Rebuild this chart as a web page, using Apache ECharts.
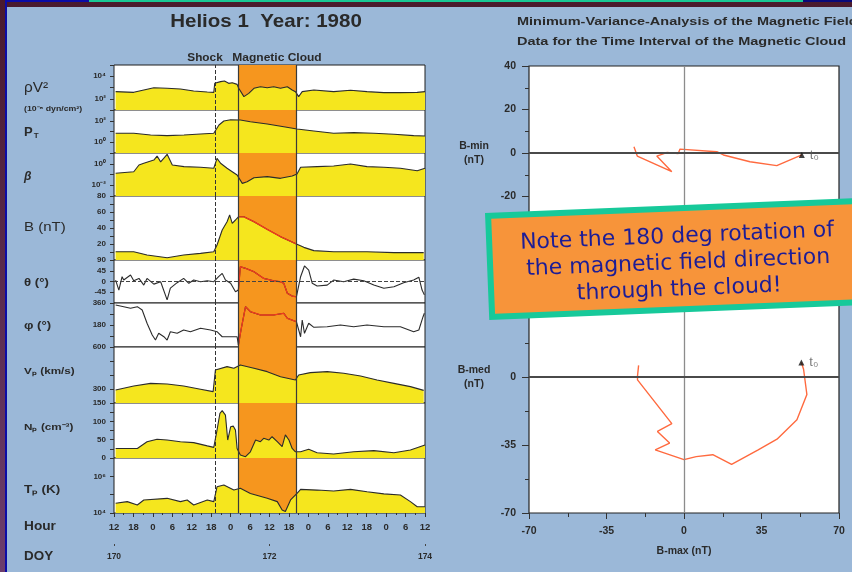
<!DOCTYPE html>
<html>
<head>
<meta charset="utf-8">
<script src="https://cdn.jsdelivr.net/npm/echarts@6/dist/echarts.min.js"></script>
<style>
  html, body { margin: 0; padding: 0; width: 852px; height: 572px; overflow: hidden; }
  body { position: relative; background: linear-gradient(#4a1a2e, #6c3d6c); }
  #paper { position: absolute; left: 7px; top: 7px; right: 0; bottom: 0; background: #9bb8d8; }
  #edgeL { position: absolute; left: 5px; top: 0; width: 2px; bottom: 0; background: #0c0ca6; }
  #edgeT1 { position: absolute; left: 5px; top: 0; width: 84px; height: 2px; background: #0c0ca6; }
  #edgeT2 { position: absolute; left: 89px; top: 0; width: 714px; height: 2px; background: #19c795; }
  #edgeT3 { position: absolute; left: 803px; top: 0; right: 0; height: 2px; background: #0a0a7a; }
  #chart { position: absolute; left: 0; top: 0; width: 852px; height: 572px; }
</style>
</head>
<body>
<div id="paper"></div>
<div id="edgeL"></div>
<div id="edgeT1"></div>
<div id="edgeT2"></div>
<div id="edgeT3"></div>
<div id="chart"></div>
<script>
// ---- time axis (hours after DOY 170, 12:00 UT) ----
const hourLabels = ['12','18','0','6','12','18','0','6','12','18','0','6','12','18','0','6','12'];
const doyLabels = ['170', '172', '174'];
const shockTime = 31.1;
const cloudInterval = [38.4, 56.3];

// ---- Helios 1 plasma and field parameters: [hour, value] ----
const rhoV2 = [[0.5,427],[6.1,372],[9.2,603],[12.3,955],[16.4,851],[20.5,741],[24.6,490],[28.8,398],[30.8,372],
  [31.1,2340],[32.9,3310],[34.1,3800],[35.4,2340],[36.5,2690],[38.0,1900],[38.5,851],[40.1,155],[41.6,302],
  [43.2,851],[45.2,1170],[47.3,955],[49.3,1170],[51.4,851],[53.5,1170],[55.0,603],[56.0,427],[57.0,155],
  [58.1,427],[61.7,603],[67.8,427],[73.0,562],[78.1,427],[83.3,347],[88.4,347],[93.6,372],[96,427]];

const totalPressure = [[0.5,6.8],[6.1,6.8],[11.3,4.7],[16.4,4.1],[21.6,4.7],[26.7,5.9],[30.8,6.8],[32.4,40],
  [33.9,95],[36.0,125],[39.0,117],[42.1,81],[47.3,50],[52.4,28],[56.5,17],[61.7,11.2],[67.8,6.8],[74.0,7.8],
  [80.2,6.8],[86.4,5.5],[92.5,4.1],[96,3.8]];

const plasmaBeta = [[0.5,0.13],[6.1,0.18],[7.7,0.76],[9.2,1.1],[12.3,2.2],[13.3,5.2],[14.4,1.5],[16.4,7.6],
  [18.0,0.76],[21.6,0.54],[26.7,0.47],[30.8,0.38],[31.8,3.2],[32.9,1.1],[34.9,0.38],[36.5,0.18],[38.0,0.089],
  [39.6,0.015],[41.1,0.021],[43.2,0.05],[47.3,0.063],[51.4,0.044],[55.0,0.072],[56.5,0.11],[57.6,0.47],
  [62.7,0.54],[67.8,0.62],[73.0,0.95],[78.1,0.54],[83.3,0.47],[88.4,0.38],[93.6,0.22],[96,0.38]];

const fieldB = [[0.5,10.4],[6.1,10.4],[10.2,6.2],[16.4,2.9],[21.5,6.2],[26.7,8.3],[30.8,10.4],[31.8,18.8],
  [33.4,37.5],[34.9,47.9],[35.7,56.3],[36.5,45.8],[37.5,50],[38.4,54],[40.1,54],[43.2,47.9],[47.3,38.3],
  [51.4,29.2],[56.3,20],[58.6,15.8],[61.7,11.7],[67.8,10.4],[78.1,10.4],[86.4,9.2],[95.6,9.2]];

const fieldTheta = [[0.5,6],[1.5,-36],[2.5,20],[3.0,6],[5.1,27],[6.1,3],[7.7,13],[9.2,-15],[10.2,13],[12.3,-11],
  [14.4,-1],[16.4,-77],[17.4,-28],[19.5,-5],[21.5,13],[23.1,-7.5],[24.6,6],[26.7,-1],[28.8,3],[30.8,-1],
  [32.3,20],[33.4,34],[34.4,6],[36.0,-7.5],[37.5,-43],[38.4,-36],[39.0,62],[40.6,55],[43.2,41],[46.2,13],
  [49.3,3],[51.4,-1],[52.4,-7.5],[53.5,-49],[55.0,-61],[56.3,-64],[57.6,20],[58.8,65],[60.1,48],[61.2,-7.5],
  [62.7,-19],[65.8,-15],[67.8,6],[70.9,-1],[74.0,10],[77.1,3],[80.2,-15],[83.3,-28],[86.4,-22],[89.4,-5],
  [92.5,6],[94.1,18],[95.1,-36],[95.8,-56]];

const fieldPhi = [[0.5,344],[3.0,330],[5.1,317],[7.2,330],[8.7,303],[10.2,194],[11.8,98],[12.8,57],[13.8,112],
  [15.4,84],[16.4,57],[17.4,125],[19.5,112],[21.5,139],[23.6,125],[26.7,153],[29.8,139],[31.8,125],[33.4,84],
  [36.0,84],[38.0,84],[38.4,16],[39.2,139],[40.6,330],[42.1,289],[45.2,262],[49.3,262],[52.4,276],[53.5,235],
  [56.3,207],[57.6,84],[58.1,221],[58.8,112],[60.1,194],[61.7,161],[65.8,166],[69.9,180],[74.0,166],
  [78.1,180],[83.3,166],[88.4,166],[92.5,125],[94.1,139],[95.4,248],[95.8,276]];

const protonSpeed = [[0.5,293],[6.1,321],[11.3,340],[16.4,336],[21.5,321],[26.7,298],[30.6,281],[31.3,436],
  [34.9,460],[37.0,448],[39.0,471],[43.2,448],[47.3,424],[51.4,388],[56.0,364],[57.0,400],[60.6,417],
  [65.8,424],[70.9,412],[76.1,393],[81.2,364],[86.4,340],[91.5,317],[95.6,290]];

const protonDensity = [[0.5,26],[7.2,26],[10.2,44.5],[13.3,51],[16.4,49],[20.5,44.5],[24.6,42],[28.8,33],
  [30.8,29],[31.8,76],[32.7,122],[33.4,129],[34.4,117],[35.1,49],[36.0,85],[36.8,87],[37.5,76],[38.0,26],
  [39.0,8],[40.6,3.6],[42.1,17],[43.7,49],[45.2,44.5],[46.2,53.6],[47.8,49],[48.8,58],[50.4,44.5],[51.9,31],
  [52.9,63],[54.0,49],[55.0,26],[56.0,17],[57.6,17],[60.1,23.6],[62.7,14.5],[67.8,11],[74.0,17],[80.2,20],
  [86.4,14.5],[91.5,22],[96,35.5]];

const protonTemp = [[0.5,33900],[4.1,41700],[7.2,27500],[9.2,51300],[16.4,63100],[20.5,41700],[22.6,51300],
  [24.6,27500],[28.8,51300],[30.8,41700],[31.8,269000],[33.9,339000],[37.0,178000],[39.0,224000],
  [42.1,117000],[47.3,63100],[50.4,41700],[51.9,14500],[52.9,12000],[54.5,51300],[56.5,117000],
  [57.6,195000],[62.7,178000],[67.8,158000],[73.0,195000],[78.1,145000],[83.3,110000],[88.4,95500],
  [91.5,41700],[93.6,21900],[96,21900]];

// ---- y tick labels per panel: [value, text] ----
const rhoTicks = [[1e4,'10⁴'],[1e2,'10²']];
const ptTicks = [[1e2,'10²'],[1,'10⁰']];
const betaTicks = [[1,'10⁰'],[1e-2,'10⁻²']];
const bTicks = [[80,'80'],[60,'60'],[40,'40'],[20,'20']];
const thetaTicks = [[90,'90'],[45,'45'],[0,'0'],[-45,'-45']];
const phiTicks = [[360,'360'],[180,'180']];
const vpTicks = [[600,'600'],[300,'300']];
const npTicks = [[150,'150'],[100,'100'],[50,'50'],[0,'0']];
const tpTicks = [[1e6,'10⁶'],[1e4,'10⁴']];

// ---- minimum variance hodograms: [B-max, B-min] and [B-max, B-med] ----
const hodoMaxMin = [[53.2,-0.9],[41.9,-5.8],[29.8,-4.0],[17.8,-0.9],[14.8,0.6],[-1.8,1.8],[-2.6,-0.2],
  [-7.8,0.2],[-12.3,-1.4],[-5.5,-8.6],[-21.1,-1.4],[-22.6,2.9]];
const hodoMaxMed = [[53,7.5],[54,4],[55.5,-9],[51,-22],[42,-32],[33.5,-37.5],[21.5,-45],[13,-40],[5.5,-41],
  [0,-42.5],[-13,-37.5],[-6.5,-34],[-12,-28],[-5.5,-24],[-21,-1.5],[-21,0.5],[-20.5,6]];

const calloutLines = ['Note the 180 deg rotation of', 'the magnetic field direction', 'through the cloud!'];

// ---- styling ----
const YELLOW = '#f5e61e';
const ORANGE = '#f6961e';
const RED = '#f23a1c';
const INK = '#2a2a2a';
const FONT = '"Liberation Sans", Arial, sans-serif';

const panels = [
  { top: 65,  bottom: 110, data: rhoV2,         fill: true,  ticks: rhoTicks,   axis: { type: 'log', min: 1e1, max: 1e5, splitNumber: 4 } },
  { top: 110, bottom: 153, data: totalPressure, fill: true,  ticks: ptTicks,    axis: { type: 'log', min: 1e-1, max: 1e3, splitNumber: 4 } },
  { top: 153, bottom: 196, data: plasmaBeta,    fill: true,  ticks: betaTicks,  axis: { type: 'log', min: 1e-3, max: 1e1, splitNumber: 4 } },
  { top: 196, bottom: 260, data: fieldB,        fill: true,  ticks: bTicks,     axis: { type: 'value', min: 0, max: 80, interval: 10 }, red: true },
  { top: 260, bottom: 303, data: fieldTheta,    fill: false, ticks: thetaTicks, axis: { type: 'value', min: -90, max: 90, interval: 45 }, red: true, zero: true },
  { top: 303, bottom: 347, data: fieldPhi,      fill: false, ticks: phiTicks,   axis: { type: 'value', min: 0, max: 360, interval: 90 }, red: true },
  { top: 347, bottom: 403, data: protonSpeed,   fill: true,  ticks: vpTicks,    axis: { type: 'value', min: 200, max: 600, interval: 100 } },
  { top: 403, bottom: 458, data: protonDensity, fill: true,  ticks: npTicks,    axis: { type: 'value', min: 0, max: 150, interval: 25 } },
  { top: 458, bottom: 513, data: protonTemp,    fill: true,  ticks: tpTicks,    axis: { type: 'log', min: 1e4, max: 1e7, splitNumber: 3 } }
];

function tickText(v, ticks, isLog) {
  for (const [val, txt] of ticks) {
    if (isLog ? Math.abs(Math.log10(v) - Math.log10(val)) < 1e-6 : Math.abs(v - val) < 1e-6) return txt;
  }
  return '';
}
const inCloud = pts => pts.map(p => (p[0] >= cloudInterval[0] && p[0] <= cloudInterval[1]) ? p : [p[0], null]);
const hiddenLine = { show: false, onZero: false };

const grids = [], xAxes = [], yAxes = [], series = [];

panels.forEach((p, i) => {
  const last = i === panels.length - 1;
  grids.push({ left: 114, top: p.top, width: 311, height: p.bottom - p.top, show: true,
    backgroundColor: '#fff', borderColor: '#1e1e1e', borderWidth: 1 });
  xAxes.push({ gridIndex: i, type: 'value', min: 0, max: 96, interval: 6,
    axisLine: hiddenLine, splitLine: { show: false },
    axisTick: { show: last, length: 4, lineStyle: { color: '#333' } },
    minorTick: { show: last, splitNumber: 2, length: 2, lineStyle: { color: '#333' } },
    axisLabel: { show: last, margin: 9, fontSize: 9.5, fontWeight: 'bold', fontFamily: FONT, color: INK,
      formatter: v => hourLabels[Math.round(v / 6)] } });
  yAxes.push(Object.assign({ gridIndex: i, axisLine: hiddenLine, splitLine: { show: false },
    axisTick: { show: true, length: 4, lineStyle: { color: '#333' } },
    axisLabel: { fontSize: 8, margin: 8, fontWeight: 'bold', fontFamily: FONT, color: INK,
      formatter: v => tickText(v, p.ticks, p.axis.type === 'log') } }, p.axis));

  // magnetic cloud interval (invisible carrier line)
  series.push({ type: 'line', xAxisIndex: i, yAxisIndex: i, data: p.data, z: 1, silent: true, showSymbol: false,
    lineStyle: { opacity: 0 },
    markArea: { silent: true, itemStyle: { color: ORANGE }, label: { show: false },
      data: [[{ xAxis: cloudInterval[0] }, { xAxis: cloudInterval[1] }]] } });

  const main = { type: 'line', xAxisIndex: i, yAxisIndex: i, data: p.data, z: 2, showSymbol: false, silent: true,
    lineStyle: { color: '#2b2b2b', width: 1.1 } };
  if (p.fill) main.areaStyle = { color: YELLOW, opacity: 1, origin: 'start' };
  series.push(main);

  if (p.red) {
    series.push({ type: 'line', xAxisIndex: i, yAxisIndex: i, data: inCloud(p.data), z: 3, showSymbol: false,
      silent: true, connectNulls: false, lineStyle: { color: RED, width: 1.3 } });
  }

  const marks = [
    { xAxis: shockTime, lineStyle: { color: '#333', width: 1, type: 'dashed' } },
    { xAxis: cloudInterval[0], lineStyle: { color: '#3a3a3a', width: 1.2, type: 'solid' } },
    { xAxis: cloudInterval[1], lineStyle: { color: '#3a3a3a', width: 1.2, type: 'solid' } }
  ];
  if (p.zero) marks.push({ yAxis: 0, lineStyle: { color: '#444', width: 1, type: 'dashed' } });
  series.push({ type: 'line', xAxisIndex: i, yAxisIndex: i, data: p.data, z: 4, silent: true, showSymbol: false,
    lineStyle: { opacity: 0 },
    markLine: { silent: true, symbol: 'none', label: { show: false }, data: marks } });
});

// ---- hodogram grids ----
const gU = grids.length, gL = grids.length + 1;
const nameStyle = { fontSize: 10.5, fontWeight: 'bold', fontFamily: FONT, color: INK, align: 'center', lineHeight: 14 };
const hodoLabel = { fontSize: 10.5, fontWeight: 'bold', fontFamily: FONT, color: INK };
grids.push({ left: 529, top: 66, width: 310, height: 174, show: true, backgroundColor: '#fff', borderColor: '#222', borderWidth: 1.2 });
grids.push({ left: 529, top: 241, width: 310, height: 272, show: true, backgroundColor: '#fff', borderColor: '#222', borderWidth: 1.2 });

xAxes.push({ gridIndex: gU, type: 'value', min: -70, max: 70, interval: 35,
  axisLine: hiddenLine, axisTick: { show: false }, axisLabel: { show: false }, splitLine: { show: false } });
yAxes.push({ gridIndex: gU, type: 'value', min: -40, max: 40, interval: 20,
  name: 'B-min\n(nT)', nameLocation: 'middle', nameRotate: 0, nameGap: 55, nameTextStyle: nameStyle,
  axisLine: hiddenLine, splitLine: { show: false },
  axisTick: { length: 7, lineStyle: { color: '#333' } },
  minorTick: { show: true, splitNumber: 2, length: 4, lineStyle: { color: '#333' } },
  axisLabel: Object.assign({ margin: 13 }, hodoLabel) });

xAxes.push({ gridIndex: gL, type: 'value', min: -70, max: 70, interval: 35,
  name: 'B-max (nT)', nameLocation: 'middle', nameGap: 31, nameTextStyle: nameStyle,
  axisLine: hiddenLine, splitLine: { show: false },
  axisTick: { length: 6, lineStyle: { color: '#333' } },
  minorTick: { show: true, splitNumber: 2, length: 4, lineStyle: { color: '#333' } },
  axisLabel: Object.assign({ margin: 13 }, hodoLabel) });
yAxes.push({ gridIndex: gL, type: 'value', min: -70, max: 70, interval: 35,
  name: 'B-med\n(nT)', nameLocation: 'middle', nameRotate: 0, nameGap: 55, nameTextStyle: nameStyle,
  axisLine: hiddenLine, splitLine: { show: false },
  axisTick: { length: 7, lineStyle: { color: '#333' } },
  minorTick: { show: true, splitNumber: 2, length: 4, lineStyle: { color: '#333' } },
  axisLabel: Object.assign({ margin: 13 }, hodoLabel) });

[[gU, hodoMaxMin], [gL, hodoMaxMed]].forEach(([g, pts]) => {
  series.push({ type: 'line', xAxisIndex: g, yAxisIndex: g, data: pts, z: 2, silent: true, showSymbol: false,
    lineStyle: { opacity: 0 },
    markLine: { silent: true, symbol: 'none', label: { show: false }, data: [
      { xAxis: 0, lineStyle: { color: '#8c8c8c', width: 1.3, type: 'solid' } },
      { yAxis: 0, lineStyle: { color: '#4a4a4a', width: 1.8, type: 'solid' } } ] } });
  series.push({ type: 'line', xAxisIndex: g, yAxisIndex: g, data: pts, z: 3, showSymbol: false, silent: true,
    lineStyle: { color: '#ff6a3f', width: 1.4 } });
  series.push({ type: 'scatter', xAxisIndex: g, yAxisIndex: g, data: [pts[0]], z: 5, silent: true,
    symbol: 'triangle', symbolSize: 6, itemStyle: { color: '#111' },
    label: { show: true, position: 'right', distance: 5, formatter: 't₀', fontSize: 13, color: '#555', fontFamily: FONT } });
});

// second time axis on the bottom panel: day of year
xAxes.push({ gridIndex: panels.length - 1, type: 'value', min: 0, max: 96, interval: 48, position: 'bottom', offset: 31,
  axisLine: hiddenLine, splitLine: { show: false },
  axisTick: { show: true, length: 2, lineStyle: { color: '#444' } },
  axisLabel: { margin: 8, fontSize: 8.5, fontWeight: 'bold', fontFamily: FONT, color: INK,
    formatter: v => doyLabels[Math.round(v / 48)] } });

// ---- titles and panel names ----
const txt = (x, y, text, size, extra, sx) => ({ type: 'text', x, y, scaleX: sx || 1, silent: true, z: 50,
  style: Object.assign({ text, fontSize: size, fontFamily: FONT, fontWeight: 'bold', fill: INK,
    align: 'left', verticalAlign: 'middle' }, extra || {}) });

const graphics = [
  txt(266, 22, 'Helios 1  Year: 1980', 19, { align: 'center' }, 1.08),
  txt(205, 58, 'Shock', 10, { align: 'center' }, 1.18),
  txt(277, 58, 'Magnetic Cloud', 10, { align: 'center' }, 1.2),
  txt(517, 22, 'Minimum-Variance-Analysis of the Magnetic Field', 11.5, null, 1.26),
  txt(517, 42, 'Data for the Time Interval of the Magnetic Cloud', 11.5, null, 1.26),
  txt(24, 88, 'ρV²', 14, { fontWeight: 'normal' }, 1.1),
  txt(24, 109, '(10⁻⁸ dyn/cm²)', 7, null, 1.25),
  { type: 'text', x: 24, y: 132, silent: true, z: 50, style: { text: '{a|P}{b|T}', align: 'left', verticalAlign: 'middle',
      rich: { a: { fontSize: 13, fontFamily: FONT, fill: INK, fontWeight: 'bold' },
              b: { fontSize: 8, fontFamily: FONT, fill: INK, fontWeight: 'bold', padding: [7, 0, 0, 1] } } } },
  txt(24, 177, 'β', 12, { fontStyle: 'italic' }),
  txt(24, 228, 'B (nT)', 12.5, { fontWeight: 'normal' }, 1.2),
  txt(24, 283, 'θ (°)', 11, null, 1.2),
  txt(24, 326, 'φ (°)', 11, null, 1.2),
  txt(24, 372, 'Vₚ (km/s)', 9, null, 1.3),
  txt(24, 428, 'Nₚ (cm⁻³)', 9, null, 1.3),
  txt(24, 490, 'Tₚ (K)', 10, null, 1.35),
  txt(24, 527, 'Hour', 12, null, 1.14),
  txt(24, 557, 'DOY', 12, null, 1.12),
  { type: 'group', x: 485, y: 213, rotation: 0.04, z: 100, silent: true, children: [
    { type: 'rect', z: 100, shape: { x: 3, y: 3, width: 440, height: 101 },
      style: { fill: '#f7943a', stroke: '#17c99a', lineWidth: 6 } },
    { type: 'text', z: 101, x: 191, y: 58, style: { text: calloutLines.join('\n'), fontSize: 22,
      fontFamily: '"DejaVu Sans", Verdana, sans-serif', fill: '#1d1d96', align: 'center',
      verticalAlign: 'middle', lineHeight: 26.5 } }
  ] }
];

const chart = echarts.init(document.getElementById('chart'), null, { renderer: 'canvas' });
chart.setOption({
  backgroundColor: 'transparent',
  animation: false,
  grid: grids,
  xAxis: xAxes,
  yAxis: yAxes,
  series: series,
  graphic: graphics
});
</script>
</body>
</html>
